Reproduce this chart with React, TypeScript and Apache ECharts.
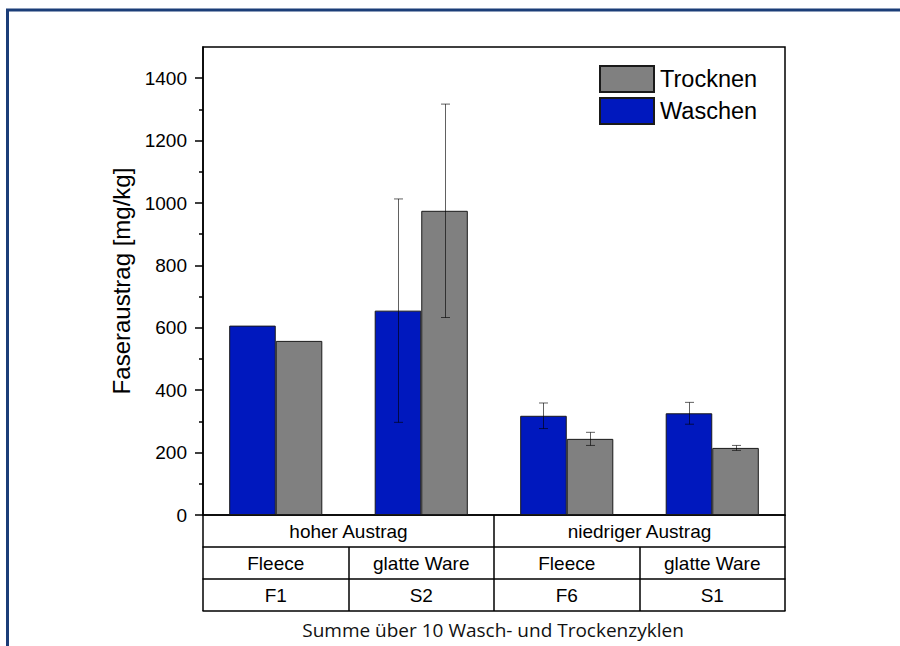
import React, { useEffect, useRef } from "react";
import * as echarts from "echarts";

const categories = ["F1", "S2", "F6", "S1"];
const fabricLabels = ["Fleece", "glatte Ware", "Fleece", "glatte Ware"];
const groupLabels = ["hoher Austrag", "niedriger Austrag"];
const waschen = [607, 655, 318, 326];
const waschenErr = [0, 358, 41, 35];
const trocknen = [558, 975, 244, 215];
const trocknenErr = [0, 342, 21, 8];
const majorTicks = [0, 200, 400, 600, 800, 1000, 1200, 1400];
const minorTicks = [100, 300, 500, 700, 900, 1100, 1300];
const yTitle = "Faseraustrag [mg/kg]";
const footer = "Summe über 10 Wasch- und Trockenzyklen";

const FONT = "Arial, 'Liberation Sans', sans-serif";
const BLUE = "#0018be";
const GRAY = "#808080";
const CAT_GAP = 0.36;

function errSeries(name: string, means: number[], errs: number[], sign: number) {
  return {
    type: "custom",
    name: name + "-err",
    xAxisIndex: 0,
    yAxisIndex: 0,
    z: 5,
    silent: true,
    encode: { x: 0, y: 1 },
    data: means.map((m, i) => [i, m, errs[i]]),
    renderItem: (params: any, api: any) => {
      const idx = api.value(0);
      const mean = api.value(1);
      const err = api.value(2);
      if (!err) return null;
      const band = api.size([1, 0])[0];
      const off = (sign * band * (1 - CAT_GAP)) / 4;
      const top = api.coord([idx, mean + err]);
      const bot = api.coord([idx, mean - err]);
      const x = Math.round(top[0] + off) + 0.5;
      const cap = 4.5;
      const style = { stroke: "rgba(0,0,0,0.62)", lineWidth: 1 };
      return {
        type: "group",
        children: [
          { type: "line", shape: { x1: x, y1: top[1], x2: x, y2: bot[1] }, style },
          { type: "line", shape: { x1: x - cap, y1: top[1], x2: x + cap, y2: top[1] }, style },
          { type: "line", shape: { x1: x - cap, y1: bot[1], x2: x + cap, y2: bot[1] }, style },
        ],
      };
    },
  };
}

function tableAxis(data: string[], offset: number, showLabel: boolean, showTick: boolean) {
  return {
    type: "category",
    data,
    position: "bottom",
    offset,
    gridIndex: 0,
    axisLine: { show: true, onZero: false, lineStyle: { color: "#000", width: 1.5 } },
    axisTick: {
      show: showTick,
      alignWithLabel: false,
      interval: 0,
      length: 32,
      inside: false,
      lineStyle: { color: "#000", width: 1.5 },
    },
    axisLabel: {
      show: showLabel,
      interval: 0,
      margin: 7,
      fontSize: 19,
      fontFamily: FONT,
      color: "#000",
    },
    splitLine: { show: false },
  };
}

export default function App() {
  const ref = useRef<HTMLDivElement>(null);

  useEffect(() => {
    if (!ref.current) return;
    const chart = echarts.init(ref.current, null, { renderer: "svg" });
    const option: any = {
      animation: false,
      backgroundColor: "#fff",
      grid: {
        left: 203,
        right: 115,
        top: 47,
        bottom: 131,
        containLabel: false,
        outerBoundsMode: "none",
        show: true,
        borderColor: "#000",
        borderWidth: 1.5,
        backgroundColor: "transparent",
      },
      legend: {
        orient: "vertical",
        left: 599,
        top: 65,
        itemWidth: 54,
        itemHeight: 26,
        itemGap: 4,
        padding: 0,
        icon: "rect",
        data: ["Trocknen", "Waschen"],
        textStyle: { fontSize: 23.5, fontFamily: FONT, color: "#000", padding: [0, 0, 0, 1] },
        selectedMode: false,
      },
      xAxis: [
        tableAxis(categories, 64, true, true),
        tableAxis(fabricLabels, 32, true, true),
        tableAxis(groupLabels, 0, true, true),
        tableAxis([""], 96, false, false),
      ],
      yAxis: [
        {
          type: "value",
          min: 0,
          max: 1500,
          interval: 200,
          position: "left",
          axisLine: { show: true, lineStyle: { color: "#000", width: 1.5 } },
          axisTick: {
            show: true,
            length: 8,
            customValues: majorTicks,
            lineStyle: { color: "#000", width: 1.5 },
          },
          axisLabel: {
            customValues: majorTicks,
            formatter: (v: number) => String(v),
            margin: 16,
            fontSize: 19,
            fontFamily: FONT,
            color: "#000",
          },
          splitLine: { show: false },
          name: yTitle,
          nameLocation: "middle",
          nameGap: 48,
          nameTextStyle: { fontSize: 24, fontFamily: FONT, color: "#000" },
        },
        {
          type: "value",
          min: 0,
          max: 1500,
          position: "left",
          axisLine: { show: false },
          axisTick: {
            show: true,
            length: 4,
            customValues: minorTicks,
            lineStyle: { color: "#000", width: 1.5 },
          },
          axisLabel: { show: false },
          splitLine: { show: false },
        },
      ],
      series: [
        {
          type: "bar",
          name: "Waschen",
          xAxisIndex: 0,
          yAxisIndex: 0,
          data: waschen,
          barGap: "0%",
          barCategoryGap: "36%",
          itemStyle: { color: BLUE, borderColor: "#1a1a1a", borderWidth: 1 },
        },
        {
          type: "bar",
          name: "Trocknen",
          xAxisIndex: 0,
          yAxisIndex: 0,
          data: trocknen,
          barGap: "0%",
          barCategoryGap: "36%",
          itemStyle: { color: GRAY, borderColor: "#1a1a1a", borderWidth: 1 },
        },
        errSeries("Waschen", waschen, waschenErr, -1),
        errSeries("Trocknen", trocknen, trocknenErr, 1),
      ],
      graphic: [
        {
          type: "rect",
          silent: true,
          shape: { x: 7.5, y: 10, width: 1200, height: 1200 },
          style: { fill: "none", stroke: "#1b3d78", lineWidth: 3 },
        },
        {
          type: "text",
          x: 493,
          y: 630,
          style: {
            text: footer,
            fontSize: 19,
            fontFamily: "'Open Sans', 'Noto Sans', sans-serif",
            fill: "#111",
            textAlign: "center",
            textVerticalAlign: "middle",
          },
        },
      ],
    };
    chart.setOption(option);
    return () => chart.dispose();
  }, []);

  return (
    <div
      ref={ref}
      style={{ position: "absolute", left: 0, top: 0, width: 900, height: 646 }}
    />
  );
}
